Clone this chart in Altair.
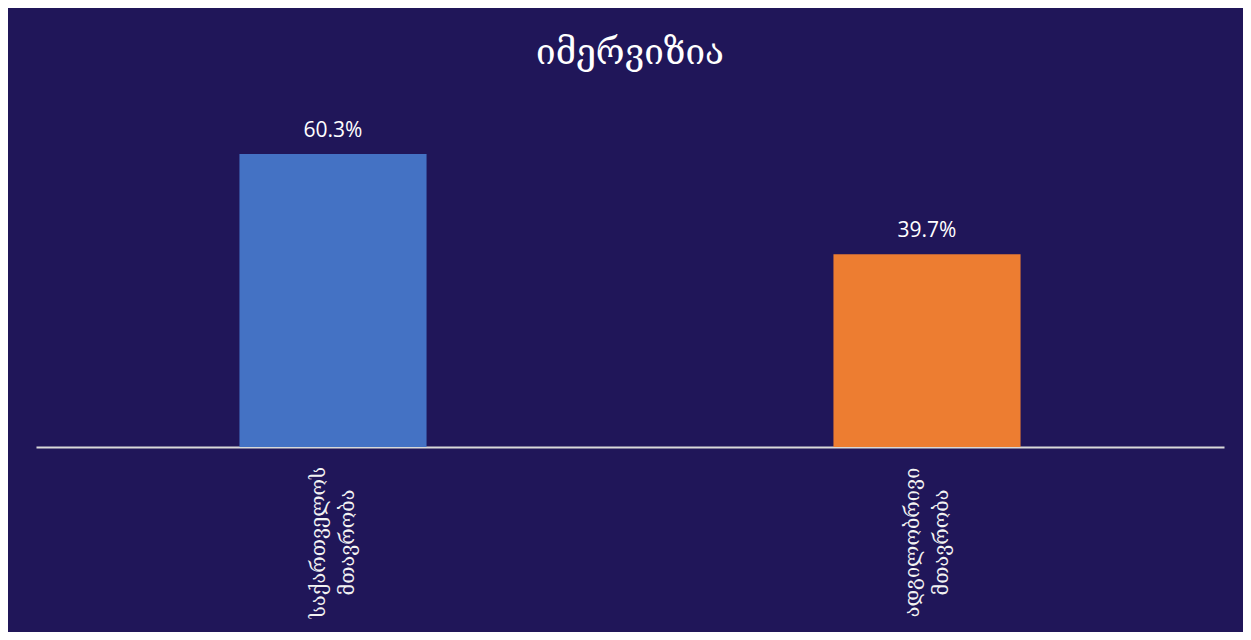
import altair as alt
import pandas as pd

categories = ["საქართველოს მთავრობა", "ადგილობრივი მთავრობა"]
values = [60.3, 39.7]
value_labels = ["60.3%", "39.7%"]
colors = ["#4472C4", "#ED7D31"]

df = pd.DataFrame({"cat": categories, "val": values, "lbl": value_labels, "col": colors})

geo_font = "DejaVu Serif, DejaVu Sans"

x = alt.X("cat:N", sort=categories, title=None,
          scale=alt.Scale(paddingInner=0.685, paddingOuter=0.3425),
          axis=alt.Axis(labelAngle=270, labelAlign="center", labelBaseline="middle",
                        labelExpr="split(datum.label, ' ')", labelLineHeight=29,
                        labelOffset=-14.5,
                        labelFont=geo_font, labelFontSize=20, labelColor="#f2f2f2",
                        labelPadding=95, ticks=False, tickSize=0,
                        domainColor="#d9d9d9", domainWidth=2, grid=False))
y = alt.Y("val:Q", scale=alt.Scale(domain=[0, 70], nice=False), axis=None)

bars = alt.Chart(df).mark_bar().encode(
    x=x, y=y, color=alt.Color("col:N", scale=None)
)
labels = alt.Chart(df).mark_text(
    dy=-17, baseline="alphabetic", align="center", font="Open Sans", fontSize=21, color="#ffffff"
).encode(x=alt.X("cat:N", sort=categories), y="val:Q", text="lbl:N")

chart = alt.layer(bars, labels).properties(
    width=1188, height=340,
    background="#201659",
    padding={"left": 28, "top": 99, "right": 19, "bottom": 185},
    autosize=alt.AutoSizeParams(type="none"),
    title=alt.TitleParams("იმერვიზია", font=geo_font, fontSize=35, fontWeight="normal",
                          color="#ffffff", offset=36, anchor="middle"),
).configure_view(stroke=None)

chart.save("out.html", embed_options={"renderer": "svg", "actions": False})
